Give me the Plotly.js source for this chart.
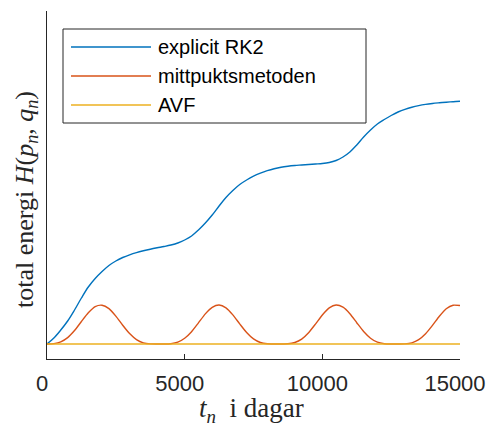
<!DOCTYPE html>
<html>
<head>
<meta charset="utf-8">
<script src="https://cdn.plot.ly/plotly-3.0.1.min.js"></script>
<style>
  html, body { margin: 0; padding: 0; background: #ffffff; }
  #plot { width: 487px; height: 428px; }
</style>
</head>
<body>
<div id="plot"></div>
<script>
// Time grid, days
const tDays = [
  0, 250, 500, 750, 1000, 1250, 1500, 1750, 2000, 2250,
  2500, 2750, 3000, 3250, 3500, 3750, 4000, 4250, 4500, 4750,
  5000, 5250, 5500, 5750, 6000, 6250, 6500, 6750, 7000, 7250,
  7500, 7750, 8000, 8250, 8500, 8750, 9000, 9250, 9500, 9750,
  10000, 10250, 10500, 10750, 11000, 11250, 11500, 11750, 12000, 12250,
  12500, 12750, 13000, 13250, 13500, 13750, 14000, 14250, 14500, 14750,
  15000
];

// Total energy (shifted so that H(p_0, q_0) = 0)
const energyRK2 = [
  0.000, 0.060, 0.140, 0.230, 0.340, 0.460, 0.570, 0.655, 0.725, 0.785,
  0.830, 0.865, 0.892, 0.914, 0.932, 0.948, 0.962, 0.975, 0.990, 1.010,
  1.040, 1.080, 1.140, 1.210, 1.290, 1.380, 1.465, 1.535, 1.595, 1.640,
  1.678, 1.708, 1.733, 1.753, 1.768, 1.778, 1.785, 1.790, 1.795, 1.800,
  1.805, 1.815, 1.835, 1.870, 1.920, 1.990, 2.070, 2.140, 2.200, 2.245,
  2.285, 2.320, 2.347, 2.368, 2.384, 2.396, 2.405, 2.412, 2.418, 2.423,
  2.427
];

const energyMidpoint = [
  0.000, 0.004, 0.022, 0.064, 0.135, 0.225, 0.312, 0.374, 0.388, 0.354,
  0.279, 0.188, 0.104, 0.044, 0.012, 0.001, 0.000, 0.000, 0.003, 0.018,
  0.057, 0.123, 0.211, 0.301, 0.367, 0.390, 0.362, 0.291, 0.201, 0.115,
  0.051, 0.015, 0.002, 0.000, 0.000, 0.002, 0.015, 0.049, 0.113, 0.199,
  0.290, 0.361, 0.390, 0.368, 0.303, 0.213, 0.125, 0.058, 0.018, 0.003,
  0.000, 0.000, 0.001, 0.012, 0.043, 0.102, 0.186, 0.277, 0.353, 0.388,
  0.385
];

const energyAVF = [
  0, 0, 0, 0, 0, 0, 0, 0, 0, 0,
  0, 0, 0, 0, 0, 0, 0, 0, 0, 0,
  0, 0, 0, 0, 0, 0, 0, 0, 0, 0,
  0, 0, 0, 0, 0, 0, 0, 0, 0, 0,
  0, 0, 0, 0, 0, 0, 0, 0, 0, 0,
  0, 0, 0, 0, 0, 0, 0, 0, 0, 0,
  0
];

const seriesNames = ['explicit RK2', 'mittpuktsmetoden', 'AVF'];
const seriesColors = ['#0072BD', '#D95319', '#EDB120'];
const seriesValues = [energyRK2, energyMidpoint, energyAVF];
const seriesSmoothing = [1.0, 0.6, 0];

const xTickVals = [0, 5000, 10000, 15000];
const xTickText = ['0', '5000', '10000', '15000'];

const xLabel = '<i>t</i><sub><i>n</i></sub>  i dagar';
const yLabel = 'total energi <i>H</i>(<i>p</i><sub><i>n</i></sub>, <i>q</i><sub><i>n</i></sub>)';

// Figure geometry (pixels)
const W = 487, H = 428;
const M = { l: 47, r: 27, t: 11, b: 69 };
const plotW = W - M.l - M.r;
const plotH = H - M.t - M.b;
const px = v => (v - M.l) / plotW;          // pixel column -> paper x
const py = v => (H - M.b - v) / plotH;       // pixel row    -> paper y

const axisColor = '#262626';
const sansFamily = 'Liberation Sans, Arial, sans-serif';
const serifFamily = 'Liberation Serif, serif';

const traces = seriesValues.map((vals, i) => ({
  type: 'scatter',
  mode: 'lines',
  x: tDays,
  y: vals,
  name: seriesNames[i],
  line: seriesSmoothing[i] > 0
    ? { color: seriesColors[i], width: 1.4, shape: 'spline', smoothing: seriesSmoothing[i] }
    : { color: seriesColors[i], width: 1.4 },
  showlegend: false,
  hoverinfo: 'skip'
}));

// Boxed legend with long line samples
const legBox = { x0: 63, x1: 366, y0: 29, y1: 123 };
const rowY = [47, 76, 105];
const shapes = [{
  type: 'rect', xref: 'paper', yref: 'paper', layer: 'above',
  x0: px(legBox.x0), x1: px(legBox.x1), y0: py(legBox.y1), y1: py(legBox.y0),
  line: { color: axisColor, width: 1 }, fillcolor: '#ffffff'
}];
const annotations = [];
seriesNames.forEach((name, i) => {
  shapes.push({
    type: 'line', xref: 'paper', yref: 'paper', layer: 'above',
    x0: px(71), x1: px(151), y0: py(rowY[i]), y1: py(rowY[i]),
    line: { color: seriesColors[i], width: 1.4 }
  });
  annotations.push({
    xref: 'paper', yref: 'paper', x: px(156), y: py(rowY[i]),
    xanchor: 'left', yanchor: 'middle', showarrow: false,
    text: name,
    font: { family: sansFamily, size: 20, color: '#000000' }
  });
});

// Axis labels
annotations.push({
  xref: 'paper', yref: 'paper', x: px(26), y: py(200),
  xanchor: 'center', yanchor: 'middle', showarrow: false, textangle: -90,
  text: yLabel,
  font: { family: serifFamily, size: 26, color: axisColor }
});
annotations.push({
  xref: 'paper', yref: 'paper', x: px(251), y: py(410),
  xanchor: 'center', yanchor: 'middle', showarrow: false,
  text: xLabel,
  font: { family: serifFamily, size: 27, color: axisColor }
});

const layout = {
  width: W, height: H,
  margin: M,
  paper_bgcolor: '#ffffff',
  plot_bgcolor: '#ffffff',
  showlegend: false,
  font: { family: sansFamily, color: axisColor },
  xaxis: {
    range: [0, 15000],
    tickvals: xTickVals,
    ticktext: xTickText,
    ticks: 'inside', ticklen: 5, tickwidth: 1, tickcolor: axisColor,
    ticklabelshift: -5,
    ticklabelstandoff: 4,
    tickfont: { family: sansFamily, size: 22, color: axisColor },
    showline: true, linecolor: axisColor, linewidth: 1.3, mirror: false,
    showgrid: false, zeroline: false
  },
  yaxis: {
    range: [-0.15, 3.33],
    showticklabels: false, ticks: '',
    showline: true, linecolor: axisColor, linewidth: 1.3, mirror: false,
    showgrid: false, zeroline: false
  },
  shapes: shapes,
  annotations: annotations
};

Plotly.newPlot('plot', traces, layout, { staticPlot: true, displayModeBar: false });
</script>
</body>
</html>
